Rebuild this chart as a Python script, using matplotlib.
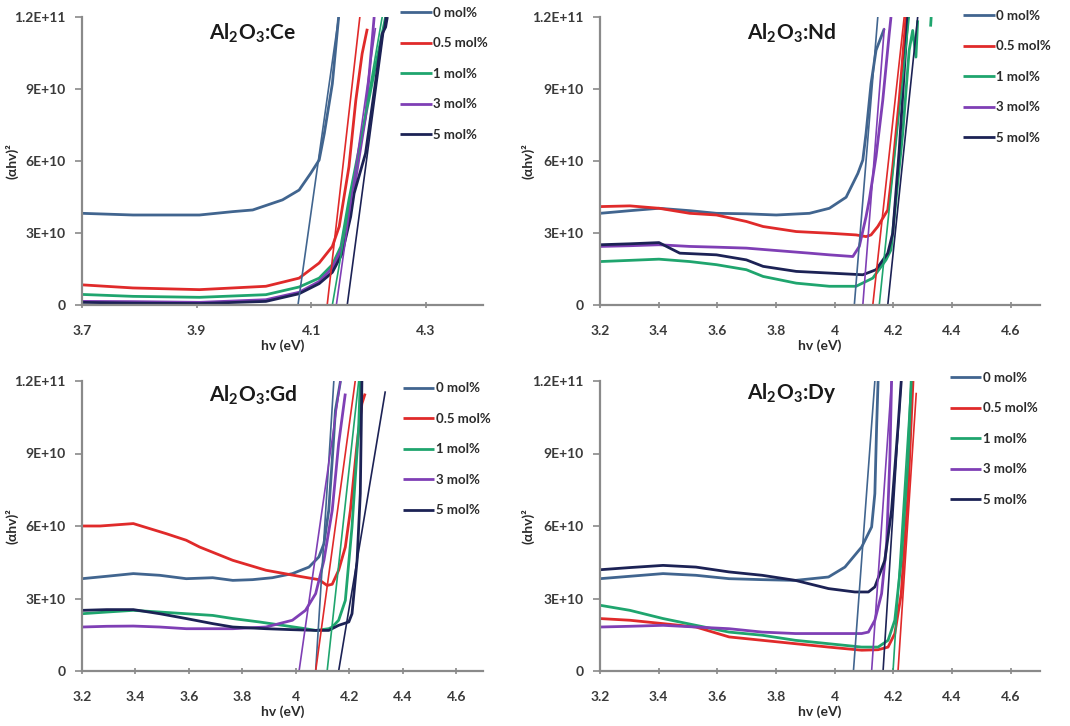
import numpy as np
import matplotlib
matplotlib.use('Agg')
import matplotlib.pyplot as plt

plt.rcParams['font.family'] = ['Lato', 'DejaVu Sans']
plt.rcParams['mathtext.fontset'] = 'custom'
plt.rcParams['mathtext.rm'] = 'Lato'
plt.rcParams['mathtext.bf'] = 'Lato:bold'

labels = ['0 mol%', '0.5 mol%', '1 mol%', '3 mol%', '5 mol%']
colors = ['#41658f', '#e02a2a', '#1fa56e', '#7f3fb5', '#1c2255']

# values of (ahv)^2 are in units of 1e10
# ---- Al2O3:Ce ----
ce_e = [
    [3.700, 3.789, 3.905, 3.963, 3.998, 4.050, 4.079, 4.099, 4.114, 4.123, 4.137, 4.148],
    [3.700, 3.789, 3.905, 4.021, 4.079, 4.114, 4.137, 4.149, 4.166, 4.178, 4.189, 4.198],
    [3.700, 3.789, 3.905, 4.021, 4.079, 4.114, 4.137, 4.152, 4.166, 4.189, 4.212, 4.230],
    [3.700, 3.789, 3.905, 4.021, 4.079, 4.114, 4.137, 4.154, 4.172, 4.195, 4.210],
    [3.700, 3.789, 3.905, 4.021, 4.079, 4.114, 4.137, 4.154, 4.169, 4.175, 4.195, 4.212, 4.224, 4.230, 4.233],
]
ce_v = [
    [3.82, 3.75, 3.75, 3.89, 3.96, 4.38, 4.79, 5.48, 6.04, 7.15, 9.22, 12.0],
    [0.84, 0.71, 0.64, 0.78, 1.12, 1.75, 2.44, 3.27, 5.76, 8.53, 10.47, 11.51],
    [0.44, 0.36, 0.32, 0.43, 0.75, 1.12, 1.68, 2.44, 4.38, 7.15, 9.92, 12.0],
    [0.15, 0.14, 0.11, 0.22, 0.53, 0.98, 1.54, 2.37, 4.38, 7.84, 12.0],
    [0.11, 0.08, 0.06, 0.15, 0.47, 0.89, 1.36, 2.13, 3.68, 4.65, 6.32, 9.22, 11.30, 11.58, 12.0],
]
ce_fit_e0 = [4.077, 4.128, 4.137, 4.144, 4.163]
ce_fit_e1 = [4.148, 4.185, 4.224, 4.212, 4.230]
ce_fit_v1 = [12.0, 12.0, 12.0, 11.51, 12.0]

# ---- Al2O3:Nd ----
nd_e = [
    [3.200, 3.302, 3.401, 3.506, 3.597, 3.699, 3.801, 3.914, 3.982, 4.039, 4.079, 4.096, 4.107, 4.124, 4.141, 4.169],
    [3.200, 3.302, 3.401, 3.506, 3.597, 3.699, 3.756, 3.869, 3.982, 4.073, 4.107, 4.124, 4.147, 4.181, 4.198, 4.220, 4.243],
    [3.200, 3.302, 3.401, 3.506, 3.597, 3.699, 3.756, 3.869, 3.982, 4.073, 4.130, 4.175, 4.192, 4.209, 4.232, 4.254, 4.266, 4.277, 4.283, np.nan, 4.327, 4.329],
    [3.200, 3.302, 3.401, 3.506, 3.597, 3.699, 3.801, 3.914, 3.982, 4.062, 4.084, 4.107, 4.118, 4.141, 4.164, 4.186, 4.192],
    [3.200, 3.302, 3.401, 3.438, 3.472, 3.597, 3.699, 3.756, 3.869, 3.982, 4.096, 4.141, 4.181, 4.198, 4.220, 4.249],
]
nd_v = [
    [3.82, 3.93, 4.03, 3.93, 3.82, 3.80, 3.75, 3.82, 4.03, 4.49, 5.48, 6.04, 7.15, 9.22, 10.61, 11.51],
    [4.10, 4.13, 4.03, 3.82, 3.75, 3.48, 3.27, 3.06, 2.99, 2.92, 2.85, 2.92, 3.27, 3.96, 5.76, 8.53, 12.0],
    [1.81, 1.86, 1.91, 1.81, 1.68, 1.47, 1.19, 0.91, 0.78, 0.78, 1.12, 1.88, 2.30, 4.38, 7.15, 10.61, 11.44, 10.33, 11.86, np.nan, 11.6, 12.0],
    [2.44, 2.47, 2.51, 2.44, 2.41, 2.37, 2.27, 2.16, 2.09, 2.02, 2.44, 3.68, 4.38, 6.18, 8.53, 11.30, 12.0],
    [2.51, 2.55, 2.60, 2.37, 2.16, 2.09, 1.88, 1.61, 1.40, 1.33, 1.26, 1.47, 2.16, 2.99, 6.45, 12.0],
]
nd_fit_e0 = [4.067, 4.130, 4.152, 4.096, 4.181]
nd_fit_e1 = [4.147, 4.237, 4.254, 4.169, 4.283]
nd_fit_v1 = [12.0, 12.0, 12.0, 11.51, 12.0]

# ---- Al2O3:Gd ----
gd_e = [
    [3.200, 3.293, 3.392, 3.491, 3.590, 3.689, 3.764, 3.838, 3.912, 3.987, 4.049, 4.086, 4.105, 4.123, 4.136, 4.148, 4.167],
    [3.200, 3.268, 3.392, 3.454, 3.516, 3.590, 3.640, 3.764, 3.888, 4.012, 4.086, 4.117, 4.136, 4.160, 4.185, 4.204, 4.229, 4.247, 4.259],
    [3.200, 3.293, 3.392, 3.491, 3.590, 3.689, 3.764, 3.863, 3.950, 4.036, 4.074, 4.123, 4.136, 4.160, 4.185, 4.210, 4.235, 4.241],
    [3.200, 3.293, 3.392, 3.491, 3.590, 3.689, 3.764, 3.888, 3.987, 4.036, 4.074, 4.105, 4.136, 4.160, 4.185],
    [3.200, 3.293, 3.392, 3.491, 3.590, 3.689, 3.764, 3.888, 3.987, 4.074, 4.123, 4.160, 4.198, 4.210, 4.229, 4.241, 4.247],
]
gd_v = [
    [3.82, 3.92, 4.03, 3.96, 3.82, 3.86, 3.75, 3.78, 3.86, 4.03, 4.30, 4.72, 5.27, 6.65, 8.72, 10.79, 12.0],
    [6.00, 6.00, 6.10, 5.89, 5.68, 5.41, 5.13, 4.58, 4.17, 3.92, 3.78, 3.54, 3.59, 4.17, 5.13, 6.65, 9.41, 11.06, 11.48],
    [2.37, 2.44, 2.51, 2.44, 2.37, 2.30, 2.17, 2.03, 1.89, 1.75, 1.68, 1.75, 1.82, 2.10, 2.92, 5.96, 10.10, 12.0],
    [1.82, 1.85, 1.86, 1.82, 1.75, 1.75, 1.75, 1.82, 2.10, 2.51, 3.20, 4.58, 6.65, 9.41, 11.48],
    [2.51, 2.54, 2.54, 2.37, 2.17, 1.96, 1.82, 1.75, 1.71, 1.68, 1.68, 1.89, 2.03, 2.37, 4.58, 7.34, 12.0],
]
gd_fit_e0 = [4.074, 4.074, 4.117, 4.012, 4.160]
gd_fit_e1 = [4.142, 4.222, 4.235, 4.167, 4.334]
gd_fit_v1 = [12.0, 12.0, 12.0, 12.0, 11.54]

# ---- Al2O3:Dy ----
dy_e = [
    [3.200, 3.302, 3.415, 3.527, 3.640, 3.753, 3.866, 3.979, 4.035, 4.092, 4.126, 4.137, 4.143, 4.148],
    [3.200, 3.302, 3.415, 3.527, 3.640, 3.753, 3.866, 3.979, 4.092, 4.148, 4.182, 4.205, 4.227, 4.250, 4.267],
    [3.200, 3.302, 3.415, 3.527, 3.640, 3.753, 3.866, 3.979, 4.092, 4.148, 4.182, 4.205, 4.227, 4.250, 4.261],
    [3.200, 3.302, 3.415, 3.527, 3.640, 3.753, 3.866, 3.979, 4.092, 4.115, 4.137, 4.160, 4.177, 4.188, 4.194],
    [3.200, 3.302, 3.415, 3.527, 3.640, 3.753, 3.866, 3.979, 4.069, 4.115, 4.137, 4.171, 4.194, 4.216, 4.227],
]
dy_v = [
    [3.82, 3.92, 4.03, 3.96, 3.82, 3.78, 3.75, 3.89, 4.30, 5.13, 5.96, 7.34, 10.10, 12.0],
    [2.17, 2.10, 1.96, 1.82, 1.41, 1.27, 1.13, 0.99, 0.86, 0.88, 0.99, 1.55, 3.20, 7.34, 12.0],
    [2.72, 2.51, 2.17, 1.89, 1.61, 1.48, 1.27, 1.13, 0.99, 0.99, 1.27, 2.10, 4.58, 8.72, 12.0],
    [1.82, 1.85, 1.89, 1.82, 1.75, 1.61, 1.55, 1.55, 1.55, 1.61, 2.10, 3.20, 5.27, 8.72, 12.0],
    [4.19, 4.28, 4.37, 4.30, 4.10, 3.96, 3.75, 3.41, 3.27, 3.27, 3.48, 4.58, 6.65, 10.10, 12.0],
]
dy_fit_e0 = [4.064, 4.216, 4.199, 4.126, 4.165]
dy_fit_e1 = [4.137, 4.278, 4.261, 4.194, 4.227]
dy_fit_v1 = [12.0, 11.48, 12.0, 12.0, 12.0]

yticks = [0, 3e10, 6e10, 9e10, 1.2e11]
yticklabels = ['0', '3E+10', '6E+10', '9E+10', '1.2E+11']

W, H = 1070, 726
fig = plt.figure(figsize=(W / 100, H / 100), dpi=100)


def make_axes(left, right, top, bottom):
    return fig.add_axes([left / W, 1 - bottom / H, (right - left) / W, (bottom - top) / H])


panels = [
    (make_axes(82, 483, 17, 305), ce_e, ce_v, ce_fit_e0, ce_fit_e1, ce_fit_v1, 'Ce',
     (3.7, 4.4), [3.7, 3.9, 4.1, 4.3], ['3.7', '3.9', '4.1', '4.3'], (0.426, 0.944), (0.793, 1.035), -0.158),
    (make_axes(600, 1040, 17, 305), nd_e, nd_v, nd_fit_e0, nd_fit_e1, nd_fit_v1, 'Nd',
     (3.2, 4.7), None, None, (0.436, 0.944), (0.825, 1.025), -0.148),
    (make_axes(82, 483, 381, 671), gd_e, gd_v, gd_fit_e0, gd_fit_e1, gd_fit_v1, 'Gd',
     (3.2, 4.7), None, None, (0.426, 0.952), (0.80, 0.995), -0.158),
    (make_axes(600, 1040, 381, 671), dy_e, dy_v, dy_fit_e0, dy_fit_e1, dy_fit_v1, 'Dy',
     (3.2, 4.7), None, None, (0.436, 0.959), (0.795, 1.032), -0.148),
]

std_ticks = [3.2, 3.4, 3.6, 3.8, 4.0, 4.2, 4.4, 4.6]
std_labels = ['3.2', '3.4', '3.6', '3.8', '4', '4.2', '4.4', '4.6']

for ax, es, vs, f0, f1, fv, dopant, xlim, xt, xtl, tpos, lpos, ylx in panels:
    handles = []
    for i in range(5):
        ln, = ax.plot(es[i], np.array(vs[i]) * 1e10, color=colors[i], lw=2.0,
                      label=labels[i], solid_capstyle='butt')
        handles.append(ln)
    for i in range(5):
        ax.plot([f0[i], f1[i]], [0, fv[i] * 1e10], color=colors[i], lw=1.2)

    ax.set_xlim(*xlim)
    ax.set_ylim(0, 1.2e11)
    if xt is None:
        xt, xtl = std_ticks, std_labels
    ax.set_xticks(xt, labels=xtl)
    ax.set_yticks(yticks, labels=yticklabels)

    for s in ['top', 'right']:
        ax.spines[s].set_visible(False)
    for s in ['left', 'bottom']:
        ax.spines[s].set_color('#8a8a8a')
        ax.spines[s].set_linewidth(1.6)

    ax.tick_params(axis='x', direction='inout', length=5, width=1.2, color='#8a8a8a',
                   pad=12, labelsize=10, labelcolor='#3a3a3a')
    ax.tick_params(axis='y', direction='out', length=5, width=1.2, color='#8a8a8a',
                   pad=7, labelsize=10, labelcolor='#3a3a3a')
    for lab in ax.get_xticklabels() + ax.get_yticklabels():
        lab.set_fontweight('bold')

    ax.set_xlabel('hv (eV)', fontsize=10, fontweight='bold', color='#2a2a2a', va='center')
    ax.xaxis.set_label_coords(0.5, -0.14)
    ax.set_ylabel('(\u03b1hv)\u00b2', fontsize=10, fontweight='bold', color='#2a2a2a')
    ax.yaxis.set_label_coords(ylx, 0.5)

    ax.text(tpos[0], tpos[1], r'$\mathbf{Al_2O_3}$:' + dopant, transform=ax.transAxes,
            ha='center', va='center', fontsize=15, fontweight='bold', color='#1a1a1a')

    leg = ax.legend(handles=handles, loc='upper left', bbox_to_anchor=lpos, frameon=False,
                    handlelength=2.4, handletextpad=0.1, labelspacing=1.4,
                    borderaxespad=0, borderpad=0,
                    prop={'size': 9.5, 'weight': 'bold'})
    for t in leg.get_texts():
        t.set_color('#2a2a2a')

fig.savefig('out.png', dpi=100)
